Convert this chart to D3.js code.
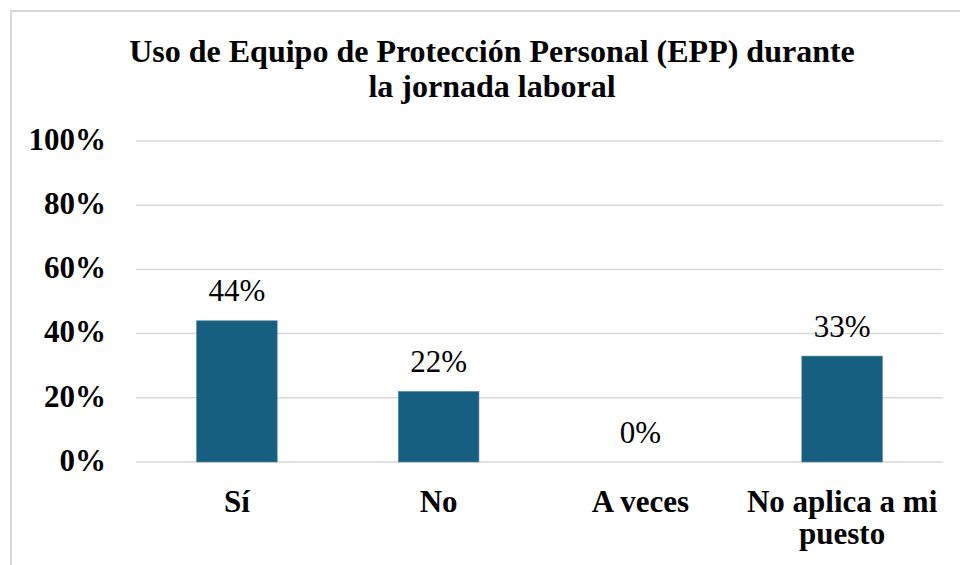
<!DOCTYPE html>
<html><head><meta charset="utf-8">
<script src="https://cdn.jsdelivr.net/npm/d3@7"></script>
<style>body{margin:0;background:#fff}svg{display:block}</style>
</head><body><svg id="c" width="960" height="565"></svg>
<script>
const categories = ["Sí", "No", "A veces", "No aplica a mi puesto"];
const values = [0.44, 0.22, 0.00, 0.33];
const valueLabels = ["44%", "22%", "0%", "33%"];
const yTicks = [0, 0.2, 0.4, 0.6, 0.8, 1.0];
const titleLines = ["Uso de Equipo de Protección Personal (EPP) durante", "la jornada laboral"];
const xLabelLines = [["Sí"], ["No"], ["A veces"], ["No aplica a mi", "puesto"]];

const FONT = "Liberation Serif";
const svg = d3.select("#c");

// outer frame
svg.append("rect").attr("x", 11).attr("y", 11).attr("width", 980).attr("height", 600)
  .attr("fill", "none").attr("stroke", "#d9d9d9").attr("stroke-width", 2);

const x = d3.scaleBand().domain(categories).range([136, 943]).paddingInner(0.6).paddingOuter(0.3);
const y = d3.scaleLinear().domain([0, 1]).range([462, 141]);

// gridlines
svg.append("g").selectAll("line").data(yTicks).join("line")
  .attr("x1", 136).attr("x2", 943).attr("y1", d => y(d)).attr("y2", d => y(d))
  .attr("stroke", "#d9d9d9").attr("stroke-width", 1.5);

// y axis
const yAxis = d3.axisLeft(y).tickValues(yTicks).tickFormat(d3.format(".0%")).tickSize(0).tickPadding(0);
const gy = svg.append("g").attr("transform", "translate(106,0)").call(yAxis);
gy.select(".domain").remove();
gy.attr("font-family", null).attr("font-size", null);
gy.selectAll("text").attr("dy", "0.27em")
  .style("font-family", FONT).style("font-size", "31px").style("font-weight", "bold").attr("fill", "#000");

// bars
svg.append("g").selectAll("rect").data(values).join("rect")
  .attr("x", (d, i) => x(categories[i])).attr("width", x.bandwidth())
  .attr("y", d => y(d)).attr("height", d => y(0) - y(d))
  .attr("fill", "#175f80").attr("stroke", "#5f8ea6").attr("stroke-width", 0.6);

// value labels
svg.append("g").selectAll("text").data(values).join("text")
  .attr("x", (d, i) => x(categories[i]) + x.bandwidth() / 2)
  .attr("y", d => y(d) - 19.5)
  .attr("text-anchor", "middle").attr("fill", "#000")
  .style("font-family", FONT).style("font-size", "31px")
  .text((d, i) => valueLabels[i]);

// x axis labels (wrapped)
const gx = svg.append("g");
categories.forEach((c, i) => {
  const cx = x(c) + x.bandwidth() / 2;
  const t = gx.append("text").attr("text-anchor", "middle").attr("fill", "#000")
    .style("font-family", FONT).style("font-size", "31px").style("font-weight", "bold");
  xLabelLines[i].forEach((l, j) => t.append("tspan").attr("x", cx).attr("y", 512 + j * 32).text(l));
});

// title
const tt = svg.append("text").attr("text-anchor", "middle").attr("fill", "#000")
  .style("font-family", FONT).style("font-size", "32px").style("font-weight", "bold");
titleLines.forEach((l, j) => tt.append("tspan").attr("x", 492).attr("y", 62 + j * 34.5).text(l));
</script></body></html>
